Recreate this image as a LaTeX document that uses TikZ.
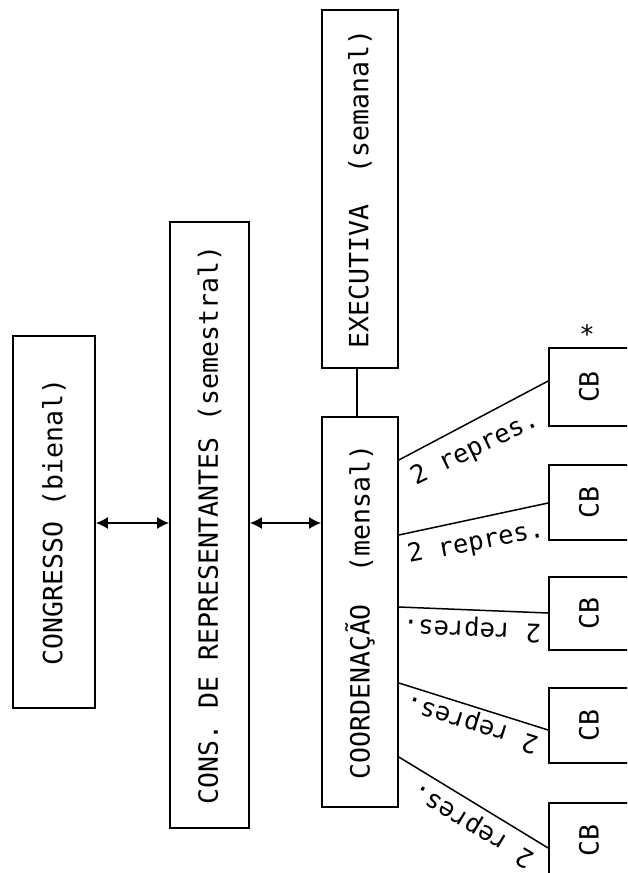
\documentclass[tikz,border=0pt]{standalone}
\usepackage{fontspec}
\setmainfont{DejaVu Sans Mono}
\usetikzlibrary{arrows.meta}
\begin{document}
\begin{tikzpicture}[x=1pt,y=-1pt,
  box/.style={draw,line width=1.7pt,inner sep=0pt,font=\fontsize{26.5}{30}\selectfont},
  lbl/.style={inner sep=0pt,font=\fontsize{25.5}{28}\selectfont},
  link/.style={line width=1.5pt},
  dbl/.style={line width=1.7pt,{Latex[length=12pt,width=12pt]}-{Latex[length=12pt,width=12pt]}}]
\useasboundingbox (0,0) rectangle (627,873);
\clip (0,0) rectangle (627,873);
\node[box,minimum width=82pt,minimum height=372pt] (cong) at (54,522) {\rotatebox{90}{CONGRESSO (bienal)}};
\node[box,minimum width=79pt,minimum height=606pt] (cons) at (209.5,525) {\rotatebox{90}{CONS. DE REPRESENTANTES (semestral)}};
\node[box,minimum width=76pt,minimum height=358pt] (exec) at (360,189) {\rotatebox{90}{EXECUTIVA\ \ (semanal)}};
\node[box,minimum width=76pt,minimum height=390pt] (coord) at (360,612) {\rotatebox{90}{COORDENAÇÃO\ \ (mensal)}};
\node[box,minimum width=80pt,minimum height=78pt] (cb1) at (589,387) {\rotatebox{90}{CB}};
\node[box,minimum width=80pt,minimum height=75pt] (cb2) at (589,502.5) {\rotatebox{90}{CB}};
\node[box,minimum width=80pt,minimum height=73pt] (cb3) at (589,613.5) {\rotatebox{90}{CB}};
\node[box,minimum width=80pt,minimum height=75pt] (cb4) at (589,725.5) {\rotatebox{90}{CB}};
\node[box,minimum width=80pt,minimum height=75pt] (cb5) at (589,840.5) {\rotatebox{90}{CB}};
\node[lbl] (ast) at (587,334) {*};
\draw[dbl] (cong.east |- 0,523) -- (cons.west |- 0,523);
\draw[dbl] (cons.east |- 0,523) -- (coord.west |- 0,523);
\draw[link,line width=1.7pt] (exec.south -| 357,0) -- (coord.north -| 357,0);
\draw[link] (coord.east |- 0,460) -- (cb1.west |- 0,381);
\draw[link] (coord.east |- 0,535) -- (cb2.west |- 0,503);
\draw[link] (coord.east |- 0,607) -- (cb3.west |- 0,613);
\draw[link] (coord.east |- 0,683) -- (cb4.west |- 0,730);
\draw[link] (coord.east |- 0,757) -- (cb5.west |- 0,848);
\node[lbl,rotate=26] (l1) at (475,449) {2 repres.};
\node[lbl,rotate=11] (l2) at (476,543) {2 repres.};
\node[lbl,rotate=177.7] (l3) at (472,629) {2 repres.};
\node[lbl,rotate=162.7] (l4) at (472,723) {2 repres.};
\node[lbl,rotate=149] (l5) at (473,825) {2 repres.};
\end{tikzpicture}
\end{document}
